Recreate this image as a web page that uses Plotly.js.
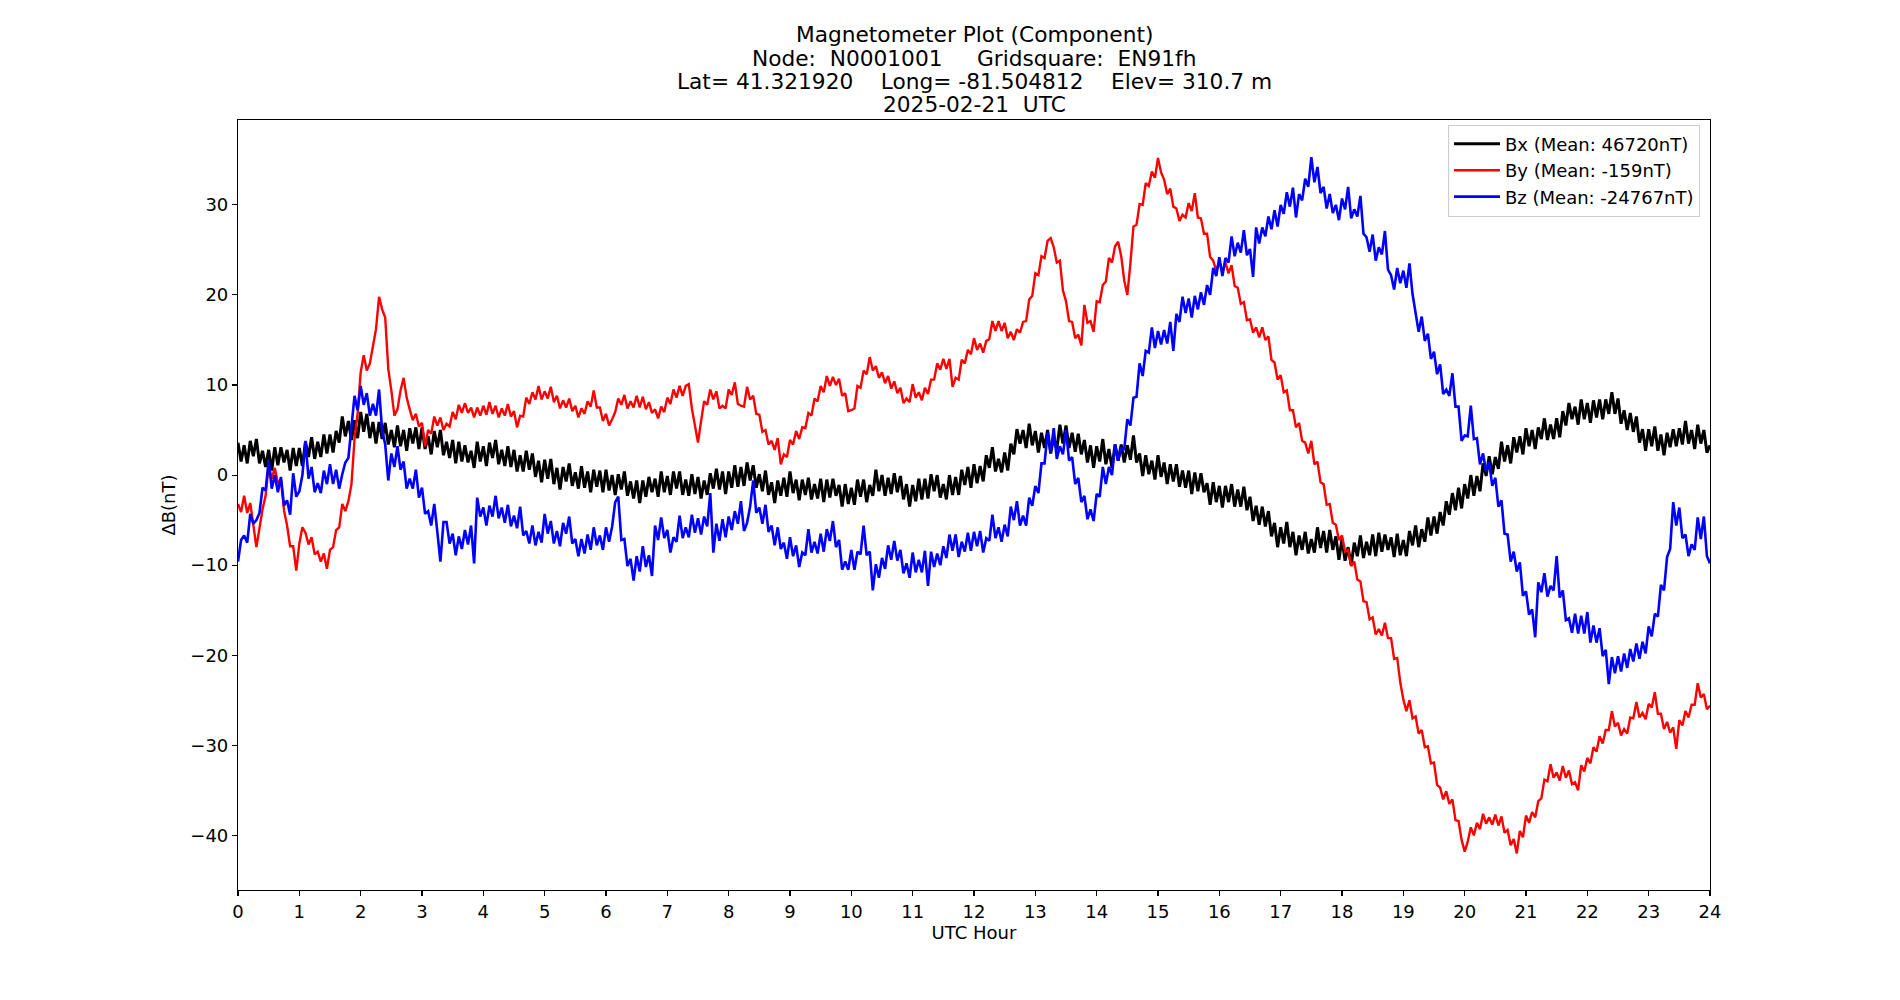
<!DOCTYPE html>
<html>
<head>
<meta charset="utf-8">
<script src="https://cdn.plot.ly/plotly-3.0.1.min.js"></script>
<style>
  html, body { margin: 0; padding: 0; background: #ffffff; }
  #chart { width: 1900px; height: 1000px; }
</style>
</head>
<body>
<div id="chart"></div>
<script>
// Magnetometer component deviations (nT) for one UTC day, one sample every 0.05 h.
const SAMPLE_START_HOUR = 0;
const SAMPLE_STEP_HOUR = 0.05;

const seriesNames = ['Bx (Mean: 46720nT)', 'By (Mean: -159nT)', 'Bz (Mean: -24767nT)'];
const seriesColors = ['#000000', '#ff0000', '#0000ff'];
const seriesWidths = [3.0, 2.4, 2.6];

const titleLines = [
  'Magnetometer Plot (Component)',
  'Node:\u00a0\u00a0N0001001\u00a0\u00a0\u00a0\u00a0\u00a0Gridsquare:\u00a0\u00a0EN91fh',
  'Lat=\u00a041.321920\u00a0\u00a0\u00a0\u00a0Long=\u00a0-81.504812\u00a0\u00a0\u00a0\u00a0Elev=\u00a0310.7\u00a0m',
  '2025-02-21\u00a0\u00a0UTC'
];

const hourTicks = [0,1,2,3,4,5,6,7,8,9,10,11,12,13,14,15,16,17,18,19,20,21,22,23,24];

// one line per UTC hour (20 samples each), plus the closing 24:00 sample
const bx = [
  3.6,1.5,3.3,1.3,3.8,2.1,4.0,1.3,2.7,0.9,2.8,0.5,3.1,1.1,3.1,1.4,2.8,0.5,3.0,1.0,
  3.0,1.0,3.7,2.0,4.2,1.8,3.7,2.0,4.5,2.4,4.5,2.5,4.9,3.6,6.5,4.3,6.0,3.9,6.1,4.1,
  7.0,4.8,6.8,4.1,5.9,3.5,5.9,4.0,5.8,3.4,5.0,3.1,5.5,3.2,5.0,2.7,5.2,3.5,5.3,2.9,
  5.3,2.9,4.3,2.3,4.9,3.1,5.0,2.2,3.7,1.9,3.9,1.3,3.7,1.5,3.3,1.4,2.7,0.8,3.7,1.5,
  3.2,1.0,3.6,1.9,3.9,1.2,2.8,1.0,3.2,0.9,2.8,0.4,2.2,0.4,2.7,0.6,2.4,-0.2,1.6,-0.8,
  1.7,-0.4,1.8,-1.0,0.8,-1.6,0.9,-0.7,1.3,-1.2,0.3,-1.5,1.0,-1.4,0.4,-1.9,0.6,-1.3,0.5,-1.9,
  0.6,-1.7,0.0,-2.2,0.1,-1.6,0.4,-2.3,-0.7,-2.6,-0.6,-3.1,-0.6,-2.4,-0.2,-1.9,-0.4,-2.4,0.4,-1.9,
  -0.1,-2.2,0.4,-1.5,0.4,-2.2,-0.5,-2.3,0.1,-2.1,-0.2,-2.6,-0.6,-2.2,0.2,-1.5,0.7,-1.6,0.4,-2.1,
  0.4,-1.4,1.1,-1.3,0.9,-1.2,1.4,-0.6,1.1,-1.4,0.1,-1.8,0.5,-2.2,-0.8,-3.1,-0.6,-2.3,-0.3,-2.4,
  0.4,-2.0,-0.5,-2.8,-0.5,-2.2,-0.3,-2.7,-1.0,-2.6,-0.4,-3.0,-0.5,-2.5,-0.4,-2.3,-1.1,-3.5,-1.0,-3.2,
  -1.4,-3.3,-0.5,-2.4,-0.5,-3.0,-1.1,-2.3,0.6,-1.8,0.0,-2.3,-0.3,-2.1,0.2,-1.9,-0.1,-2.7,-1.0,-3.5,
  -1.1,-2.9,-0.4,-2.7,-0.4,-2.6,0.1,-1.8,0.0,-2.5,-1.0,-2.7,0.0,-2.2,-0.2,-2.2,0.6,-1.1,0.9,-1.4,
  1.2,-0.9,1.0,-0.7,2.2,0.8,3.1,0.4,1.8,0.3,2.5,0.5,3.5,2.3,5.1,3.5,5.0,3.0,5.7,3.3,
  4.9,2.5,4.7,3.0,5.0,2.4,4.2,2.8,5.6,3.5,5.5,3.0,4.7,2.6,4.6,2.3,3.9,1.4,3.3,0.8,
  3.2,1.5,4.0,1.2,2.9,0.8,3.4,1.6,3.4,1.4,3.3,1.7,4.4,1.4,2.4,-0.1,2.2,0.1,1.6,-0.5,
  2.2,-0.2,1.4,-1.0,1.2,-0.7,1.2,-1.3,0.5,-1.4,0.5,-2.1,0.3,-1.8,0.2,-1.9,-0.9,-3.3,-0.8,-3.0,
  -1.2,-3.6,-1.2,-3.0,-1.0,-3.5,-1.6,-3.5,-1.3,-3.9,-2.4,-5.1,-3.4,-5.5,-3.5,-5.7,-4.0,-6.8,-5.3,-8.0,
  -5.8,-7.6,-5.2,-8.0,-6.3,-8.9,-6.7,-8.3,-6.3,-8.7,-7.1,-8.6,-5.8,-8.1,-6.2,-8.6,-6.1,-8.3,-6.8,-9.4,
  -7.1,-9.5,-8.0,-10.0,-7.5,-9.0,-6.7,-9.2,-7.4,-8.9,-6.6,-9.0,-6.4,-8.5,-6.6,-8.3,-6.9,-9.1,-6.5,-8.9,
  -7.2,-9.0,-6.2,-7.8,-5.6,-8.0,-6.0,-7.4,-4.7,-6.7,-4.6,-6.5,-4.1,-5.6,-2.9,-4.4,-2.0,-3.9,-1.4,-3.7,
  -1.0,-2.6,0.0,-2.3,-0.1,-1.8,1.3,-0.1,2.1,0.1,2.0,0.7,3.7,1.5,3.3,1.3,4.2,2.5,4.3,2.3,
  5.2,3.2,5.0,2.9,5.3,4.0,6.3,3.9,5.6,4.0,6.3,4.2,7.1,5.5,8.0,6.2,7.6,5.6,8.4,6.2,
  8.0,5.8,8.3,6.4,8.4,6.2,8.4,6.8,9.2,6.8,8.5,5.7,7.2,5.0,6.9,4.8,6.5,3.6,5.1,2.7,
  5.1,3.2,5.4,2.7,4.5,2.2,4.7,3.1,5.1,3.2,5.2,3.4,6.0,3.5,5.0,2.9,5.6,3.5,5.0,2.5,
  3.3
];

const by = [
  -3.2,-4.1,-2.3,-4.2,-3.1,-5.4,-8.0,-5.9,-3.8,-2.3,1.0,-0.4,0.8,-0.9,-0.5,-3.9,-5.6,-7.9,-7.9,-10.6,
  -7.6,-5.8,-6.4,-7.7,-6.9,-8.8,-8.5,-9.6,-8.7,-10.4,-8.3,-8.0,-6.1,-5.8,-3.2,-4.0,-2.9,-1.0,4.0,6.8,
  11.4,13.3,11.6,12.4,14.4,16.2,19.8,18.4,17.5,11.8,9.4,6.6,7.3,9.4,10.8,8.6,7.3,6.1,6.8,5.4,
  5.8,3.2,5.0,4.6,6.5,5.5,6.4,5.0,5.7,5.4,7.0,6.2,7.8,6.9,8.0,6.9,7.5,6.4,7.5,6.6,
  7.7,6.7,8.1,6.8,7.7,6.4,7.4,6.6,7.9,6.5,7.1,5.3,6.6,6.5,8.6,7.9,9.2,8.4,9.9,8.4,
  9.3,8.5,9.8,8.1,8.8,7.4,8.3,7.5,8.5,7.1,7.7,6.4,7.4,6.8,8.2,7.6,9.4,7.5,7.5,6.0,
  6.8,5.5,6.2,7.0,8.5,7.8,8.9,7.4,8.2,7.5,8.8,7.5,8.7,7.3,8.1,6.9,7.3,6.3,7.6,7.0,
  8.6,7.9,9.5,8.6,9.9,8.8,9.9,10.1,7.4,5.5,3.6,6.0,8.2,7.8,9.5,8.4,9.3,7.4,7.7,7.4,
  9.5,8.9,10.3,7.9,7.7,7.6,9.8,8.4,8.8,6.8,6.7,4.8,5.0,3.4,3.8,2.8,4.1,1.2,2.3,2.0,
  3.9,3.4,4.9,4.0,5.3,5.2,6.9,6.6,8.5,8.2,9.9,9.2,11.0,9.9,10.9,10.0,10.7,8.8,9.1,7.1,
  7.2,7.4,9.9,9.7,11.6,11.2,13.1,11.6,12.1,10.8,11.4,10.2,11.0,9.6,10.4,9.1,9.7,8.0,8.5,8.1,
  10.1,8.6,9.2,8.3,9.7,9.0,10.6,10.6,12.4,11.7,12.9,11.8,12.9,9.8,10.8,10.6,12.8,12.4,13.9,13.4,
  15.2,13.9,14.6,13.6,14.9,15.1,17.1,16.0,17.1,16.0,16.9,15.2,15.9,15.0,16.2,15.8,17.0,17.1,19.5,19.9,
  22.4,22.2,24.3,24.1,26.0,26.3,25.3,23.6,23.8,20.5,19.3,17.1,17.0,15.2,15.6,14.4,18.9,16.9,17.1,15.9,
  19.3,19.2,21.1,21.5,24.1,23.6,25.4,25.9,24.3,21.6,20.0,23.5,27.6,27.8,30.1,30.0,32.4,32.1,33.7,33.0,
  35.2,33.6,32.8,31.2,31.8,29.8,29.6,28.2,28.9,28.6,30.2,29.3,31.3,28.6,28.5,26.8,26.8,24.2,23.8,22.7,
  23.7,22.5,23.6,22.4,23.3,21.0,20.8,19.0,19.2,17.2,17.3,15.8,16.4,15.3,16.4,15.0,15.4,12.8,12.5,10.6,
  11.1,9.2,9.4,7.2,7.2,5.3,5.8,3.8,3.6,2.4,3.8,1.2,1.5,-0.8,-1.0,-3.3,-3.2,-5.3,-5.5,-7.2,
  -6.7,-8.5,-8.3,-10.1,-9.6,-11.6,-11.8,-14.0,-14.1,-16.0,-15.8,-17.7,-17.1,-17.8,-16.4,-18.1,-18.1,-20.4,-20.3,-23.0,
  -24.9,-26.2,-25.0,-27.0,-26.8,-28.7,-28.3,-30.2,-30.1,-32.0,-31.9,-34.4,-34.7,-36.0,-35.1,-36.5,-36.0,-38.3,-38.4,-40.5,
  -41.8,-40.7,-39.1,-40.0,-38.6,-39.3,-37.6,-38.7,-38.0,-38.8,-37.7,-38.9,-37.9,-39.7,-39.4,-41.1,-40.4,-42.0,-39.5,-40.2,
  -37.8,-38.6,-37.4,-38.0,-36.2,-35.9,-33.8,-34.0,-32.1,-33.6,-33.0,-33.9,-32.3,-33.6,-32.8,-34.3,-34.1,-35.0,-32.2,-32.9,
  -31.4,-32.0,-30.2,-30.7,-29.0,-29.8,-28.3,-28.3,-26.2,-27.9,-27.5,-28.9,-28.2,-28.7,-26.9,-27.0,-25.2,-26.9,-26.4,-27.1,
  -25.4,-25.8,-24.1,-26.5,-26.5,-28.2,-27.4,-28.6,-28.0,-30.4,-27.2,-27.8,-26.2,-26.9,-25.5,-25.5,-23.1,-24.7,-24.3,-26.0,
  -25.6
];

const bz = [
  -9.6,-7.2,-6.7,-7.5,-4.3,-5.4,-5.0,-4.2,-1.4,-1.7,1.6,-1.5,0.0,-1.9,-0.2,-3.4,-2.8,-4.4,0.2,-2.4,
  -1.8,0.0,3.8,-0.4,0.9,-1.9,-0.9,-2.0,0.5,-1.0,1.2,-1.0,0.6,-1.5,0.1,1.4,1.9,5.0,8.8,7.2,
  9.9,7.8,9.1,6.6,7.9,6.6,9.5,5.0,3.4,-0.6,2.4,0.9,3.2,0.6,1.5,-1.5,-0.4,-1.5,0.6,-2.5,
  -1.4,-4.3,-4.0,-5.6,-3.2,-6.3,-9.6,-5.2,-5.2,-7.6,-6.5,-8.9,-6.8,-8.2,-6.1,-7.7,-5.6,-9.8,-2.5,-4.6,
  -3.6,-5.6,-3.4,-4.6,-2.3,-4.8,-3.6,-5.3,-3.3,-5.7,-4.5,-5.9,-3.5,-6.7,-6.2,-7.6,-5.6,-7.8,-6.3,-7.5,
  -4.3,-6.5,-5.1,-7.6,-6.2,-7.9,-5.3,-6.5,-4.6,-7.6,-7.1,-9.0,-7.1,-8.7,-6.6,-8.3,-5.8,-7.8,-6.7,-8.3,
  -5.8,-7.4,-5.7,-3.0,-2.4,-7.2,-7.1,-10.1,-9.3,-11.7,-9.0,-10.7,-7.9,-10.2,-8.9,-11.2,-5.6,-7.2,-4.7,-7.0,
  -6.1,-8.6,-6.9,-7.4,-4.5,-7.0,-5.8,-6.9,-4.4,-6.4,-4.8,-6.6,-4.6,-5.7,-2.0,-8.6,-5.4,-7.3,-4.9,-6.9,
  -4.6,-6.1,-4.0,-5.4,-2.9,-6.2,-5.3,-3.5,-0.6,-4.2,-3.6,-5.4,-3.3,-6.3,-5.6,-7.8,-5.8,-8.2,-7.5,-9.3,
  -6.9,-9.0,-7.8,-10.2,-8.6,-8.9,-6.0,-8.6,-7.4,-8.7,-6.5,-8.5,-6.0,-7.3,-5.1,-8.0,-7.2,-10.5,-9.6,-10.5,
  -8.3,-10.5,-8.5,-8.8,-5.6,-8.9,-8.5,-12.8,-9.9,-11.4,-9.2,-10.4,-7.8,-9.4,-7.3,-9.5,-8.3,-10.9,-9.8,-11.4,
  -8.6,-10.8,-9.4,-10.8,-8.4,-12.3,-8.5,-10.2,-8.7,-10.0,-7.9,-9.2,-6.6,-8.4,-6.6,-9.1,-7.4,-8.5,-6.4,-8.4,
  -6.3,-7.9,-6.2,-8.6,-7.0,-7.3,-4.4,-7.0,-5.8,-7.4,-5.5,-6.8,-3.5,-5.0,-2.9,-5.6,-4.5,-5.6,-2.5,-3.4,
  -1.2,-2.0,1.3,1.3,4.7,2.5,5.2,1.8,3.2,2.3,5.0,1.6,2.0,-1.0,-0.3,-3.0,-2.3,-4.9,-3.8,-5.1,
  -2.1,-2.4,0.9,-1.0,0.9,0.0,3.4,1.6,3.0,2.9,6.2,5.5,8.6,8.7,12.4,11.0,13.8,13.6,16.4,14.1,
  16.0,14.5,16.1,14.6,17.0,13.8,17.9,17.0,19.8,18.0,19.6,17.5,19.9,18.4,20.3,18.9,21.1,20.0,23.0,22.1,
  24.2,22.1,24.1,23.6,26.5,24.3,25.8,24.7,27.2,24.4,25.1,22.0,27.5,25.7,27.5,26.5,28.7,27.3,29.4,27.6,
  30.0,29.0,31.4,29.8,31.9,28.6,31.2,30.5,32.9,32.0,35.3,32.5,34.2,31.3,32.0,29.6,31.2,29.1,30.0,28.3,
  30.7,29.5,32.0,28.5,29.5,28.7,31.0,26.8,26.4,24.8,26.7,23.8,25.3,24.5,27.1,22.8,22.2,20.6,23.0,21.3,
  22.7,20.8,23.5,20.1,17.8,15.9,17.6,14.9,15.7,12.9,13.7,11.2,12.3,9.0,9.5,8.8,11.3,7.6,7.6,3.8,
  4.4,4.3,7.7,4.0,4.1,1.2,2.4,0.4,1.4,-1.2,-0.3,-3.5,-2.8,-6.5,-6.6,-9.6,-8.5,-10.7,-9.7,-13.4,
  -12.9,-15.5,-14.9,-18.0,-11.9,-13.0,-10.9,-13.5,-12.3,-12.8,-9.0,-13.6,-12.8,-16.1,-15.9,-17.5,-15.4,-17.6,-15.6,-17.6,
  -15.2,-18.6,-16.7,-18.6,-17.0,-20.1,-19.4,-23.2,-20.2,-22.0,-20.1,-21.8,-19.8,-21.4,-19.3,-20.7,-18.7,-20.4,-18.5,-19.8,
  -16.8,-17.9,-15.4,-15.7,-12.2,-12.8,-9.1,-8.2,-3.0,-5.6,-3.6,-7.0,-6.6,-9.0,-7.7,-8.3,-4.7,-7.1,-4.6,-9.0,
  -9.8
];

const FONT = 'DejaVu Sans, Verdana, sans-serif';

const traces = [bx, by, bz].map((values, i) => ({
  type: 'scatter',
  mode: 'lines',
  name: seriesNames[i],
  y: values,
  x0: SAMPLE_START_HOUR,
  dx: SAMPLE_STEP_HOUR,
  line: { color: seriesColors[i], width: seriesWidths[i] },
  hoverinfo: 'skip'
}));

// plot-area geometry in pixels, used to place the stacked title lines
const PLOT_TOP = 120, PLOT_BOTTOM = 890;
const titleCentres = [35, 58, 81, 104];
const annotations = titleLines.map((line, i) => ({
  text: line,
  xref: 'paper', x: 0.5, xanchor: 'center',
  yref: 'paper', y: (PLOT_BOTTOM - titleCentres[i]) / (PLOT_BOTTOM - PLOT_TOP), yanchor: 'middle',
  showarrow: false,
  font: { family: FONT, size: 21.7, color: '#000000' }
}));

const axisCommon = {
  showgrid: false,
  zeroline: false,
  showline: true,
  linecolor: '#000000',
  linewidth: 1.1,
  mirror: true,
  ticks: 'outside',
  ticklen: 5,
  tickwidth: 1.1,
  tickcolor: '#000000',
  tickfont: { family: FONT, size: 18, color: '#000000' },
  automargin: false
};

const layout = {
  width: 1900,
  height: 1000,
  margin: { l: 238, r: 190, t: PLOT_TOP, b: 1000 - PLOT_BOTTOM, pad: 0 },
  paper_bgcolor: '#ffffff',
  plot_bgcolor: '#ffffff',
  font: { family: FONT, size: 18, color: '#000000' },
  showlegend: true,
  legend: {
    x: 0.9932, xanchor: 'right',
    y: 0.994, yanchor: 'top',
    bgcolor: 'rgba(255,255,255,0.8)',
    bordercolor: '#cccccc',
    borderwidth: 1,
    itemwidth: 46,
    font: { family: FONT, size: 18, color: '#000000' },
    traceorder: 'normal'
  },
  xaxis: Object.assign({}, axisCommon, {
    range: [0, 24],
    tickmode: 'array',
    tickvals: hourTicks,
    ticktext: hourTicks.map(String),
    title: { text: 'UTC Hour', font: { family: FONT, size: 18, color: '#000000' }, standoff: 2 }
  }),
  yaxis: Object.assign({}, axisCommon, {
    range: [-46.06, 39.42],
    tickmode: 'linear',
    tick0: 0,
    dtick: 10,
    title: { text: 'ΔB(nT)', font: { family: FONT, size: 18, color: '#000000' }, standoff: 10 }
  }),
  annotations: annotations
};

Plotly.newPlot('chart', traces, layout, { displayModeBar: false, staticPlot: true, responsive: false });
</script>
</body>
</html>
